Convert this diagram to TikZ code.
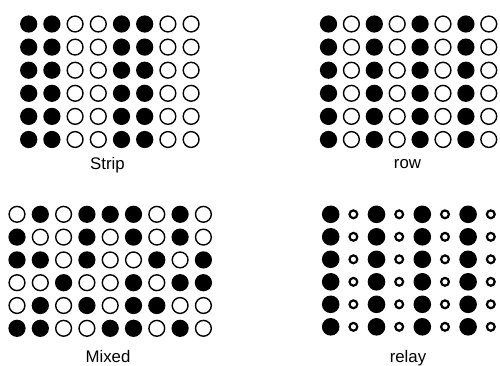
\documentclass[tikz,border=0pt]{standalone}
\usepackage{fontspec}
\setmainfont{Liberation Sans}
\tikzset{
  dot/.style={circle, inner sep=0pt, outer sep=0pt, minimum size=15.8pt, line width=1.4pt, draw=black},
  m1/.style={dot, fill=black},
  m0/.style={dot, fill=white},
  bigon/.style={circle, inner sep=0pt, outer sep=0pt, minimum size=17.6pt, fill=black},
  smalloff/.style={circle, inner sep=0pt, outer sep=0pt, minimum size=7.8pt, line width=2.2pt, draw=black, fill=white},
  lbl/.style={font=\fontsize{16.8}{20}\selectfont, anchor=base, inner sep=0pt}
}
\begin{document}
\begin{tikzpicture}[x=1pt,y=-1pt]
\useasboundingbox[fill=white] (0,0) rectangle (500,365);
% Strip
\foreach \r in {1,...,6}{
  \foreach \v [count=\c] in {1,1,0,0,1,1,0,0}{
    \node[m\v] (strip-\r-\c) at ({28.7+23.2*(\c-1)},{24+23.1*(\r-1)}) {};
  }
}
\node[lbl] (striplbl) at (107.5,169) {Strip};
% row
\foreach \r in {1,...,6}{
  \foreach \v [count=\c] in {1,0,1,0,1,0,1,0}{
    \node[m\v] (row-\r-\c) at ({328.5+22.9*(\c-1)},{24+23.1*(\r-1)}) {};
  }
}
\node[lbl] (rowlbl) at (407.5,168.5) {row};
% Mixed
\foreach \line [count=\r] in {{0,1,0,1,1,1,0,1,0},{1,0,0,1,0,1,0,1,0},{1,1,0,1,0,0,1,0,1},{0,0,1,0,0,1,0,1,1},{0,1,0,1,0,1,1,0,0},{1,1,0,0,1,1,0,1,0}}{
  \foreach \v [count=\c] in \line{
    \node[m\v] (mixed-\r-\c) at ({17+23.3*(\c-1)},{214.3+22.8*(\r-1)}) {};
  }
}
\node[lbl] (mixedlbl) at (108,362.7) {Mixed};
% relay
\foreach \r in {1,...,6}{
  \foreach \c in {1,...,4}{
    \node[bigon] (relayb-\r-\c) at ({330.7+45.8*(\c-1)},{214.3+22.5*(\r-1)}) {};
    \node[smalloff] (relays-\r-\c) at ({353.4+45.8*(\c-1)},{214.3+22.5*(\r-1)}) {};
  }
}
\node[lbl] (relaylbl) at (408,362.7) {relay};
\end{tikzpicture}
\end{document}
